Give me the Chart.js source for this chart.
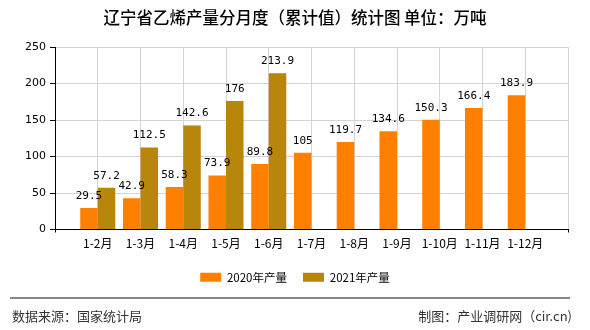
<!DOCTYPE html>
<html>
<head>
<meta charset="utf-8">
<script src="https://cdn.jsdelivr.net/npm/chart.js@4.4.0/dist/chart.umd.min.js"></script>
<style>
  body { margin: 0; background: #fff; }
  #wrap { position: relative; width: 590px; height: 330px; }
  .line { position: absolute; left: 10px; top: 297px; width: 560px; height: 0; border-top: 2px solid #888; }
  .foot { position: absolute; top: 306px; font: 13px "Noto Sans CJK SC", sans-serif; color: #333; }
</style>
</head>
<body>
<div id="wrap">
  <canvas id="myChart"></canvas>
  <div class="line"></div>
  <div class="foot" style="left:12px">数据来源：国家统计局</div>
  <div class="foot" style="right:18px">制图：产业调研网（cir.cn)</div>
</div>
<script>
const months = ["1-2月","1-3月","1-4月","1-5月","1-6月","1-7月","1-8月","1-9月","1-10月","1-11月","1-12月"]
const out2020 = [29.5, 42.9, 58.3, 73.9, 89.8, 105, 119.7, 134.6, 150.3, 166.4, 183.9]
const out2021 = [57.2, 112.5, 142.6, 176, 213.9, null, null, null, null, null, null]
const yTicks = [0, 50, 100, 150, 200, 250]
const titleText = "辽宁省乙烯产量分月度（累计值）统计图 单位：万吨"

// empty slot on each side so the grid lines fall on the month labels
const labels = ["", ...months, ""]
const pad = arr => [null, ...arr, null]

const cjk = '"Noto Sans CJK SC", sans-serif'

const topTitle = {
  id: "topTitle",
  afterDraw(chart) {
    const c = chart.ctx
    c.save()
    c.font = '500 16.5px "Noto Sans CJK SC", sans-serif'
    c.fillStyle = "#000"
    c.textAlign = "center"
    c.textBaseline = "middle"
    c.fillText(titleText, chart.width / 2, 18)
    c.restore()
  }
}

// value text above every bar
const barValues = {
  id: "barValues",
  afterDatasetsDraw(chart) {
    const c = chart.ctx
    c.save()
    c.font = '11px "DejaVu Sans Mono", monospace'
    c.fillStyle = "#000"
    c.textAlign = "center"
    c.textBaseline = "middle"
    chart.data.datasets.forEach((ds, i) => {
      chart.getDatasetMeta(i).data.forEach((bar, j) => {
        const v = ds.data[j]
        if (v === null || v === undefined) return
        c.fillText(String(v), bar.x, bar.y - 12)
      })
    })
    c.restore()
  }
}

const ctx = document.getElementById("myChart")
new Chart(ctx, {
  type: "bar",
  data: {
    labels: labels,
    datasets: [
      { label: "2020年产量", data: pad(out2020), backgroundColor: "#FF8000" },
      { label: "2021年产量", data: pad(out2021), backgroundColor: "#B8860B" }
    ]
  },
  options: {
    responsive: true,
    maintainAspectRatio: false,
    animation: false,
    layout: { padding: { left: 0, right: 0, top: 47, bottom: 37 } },
    datasets: { bar: { barPercentage: 1, categoryPercentage: 0.82 } },
    plugins: {
      title: { display: false },
      legend: {
        position: "bottom",
        labels: {
          boxWidth: 21, boxHeight: 9, padding: 16,
          color: "#000",
          font: { family: cjk, size: 11.5 }
        }
      },
      tooltip: { enabled: false }
    },
    scales: {
      x: {
        offset: false,
        grid: {
          offset: false,
          color: "#d4d4d4",
          tickLength: 3,
          tickColor: c => (c.index === 0 || c.index === labels.length - 1) ? "#000" : "rgba(0,0,0,0)"
        },
        border: { color: "#000", width: 1 },
        ticks: { color: "#000", padding: 4, maxRotation: 0, autoSkip: false, font: { family: cjk, size: 12 } },
        afterFit: s => { s.height = 26 }
      },
      y: {
        min: 0,
        max: 250,
        afterBuildTicks: s => { s.ticks = yTicks.map(v => ({ value: v })) },
        grid: { color: "#d4d4d4", tickLength: 5, tickColor: "#000" },
        border: { color: "#000", width: 1 },
        ticks: { color: "#000", padding: 4, font: { family: '"DejaVu Sans", sans-serif', size: 11 } },
        afterFit: s => { s.width = 55 }
      },
      // blank strip on the right, keeps the legend centred on the canvas
      yRight: {
        position: "right",
        display: true,
        min: 0,
        max: 250,
        grid: { display: false },
        border: { display: false },
        ticks: { display: false },
        afterFit: s => { s.width = 22 }
      }
    }
  },
  plugins: [barValues, topTitle]
})
</script>
</body>
</html>
